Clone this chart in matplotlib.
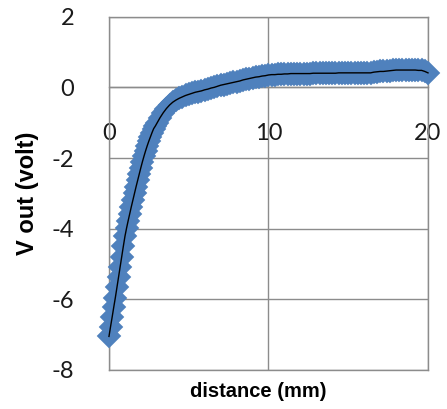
import numpy as np
import matplotlib
matplotlib.use('Agg')
import matplotlib.pyplot as plt

# sample positions (mm): fine step on the steep part, coarser afterwards
distance = np.round(np.concatenate([np.arange(0, 3.0, 0.1),
                                    np.arange(3.0, 20.01, 0.2)]), 2)

# V out
v_steep = [-7.05, -6.77, -6.50, -6.22, -5.95, -5.66, -5.37, -5.08, -4.79, -4.50,
           -4.22, -3.99, -3.78, -3.58, -3.38, -3.19, -3.00, -2.81, -2.63, -2.45,
           -2.27, -2.10, -1.94, -1.79, -1.65, -1.52, -1.40, -1.28, -1.17, -1.10]
v_tail = [-1.02, -0.86, -0.72, -0.60, -0.50, -0.42, -0.36, -0.31, -0.27, -0.23,
          -0.20, -0.17, -0.14, -0.12, -0.10, -0.07, -0.05, -0.02, 0.00, 0.03,
          0.06, 0.08, 0.10, 0.12, 0.14, 0.16, 0.18, 0.21, 0.23, 0.25,
          0.27, 0.29, 0.30, 0.32, 0.33, 0.35, 0.36, 0.36, 0.37, 0.37,
          0.38, 0.38, 0.39, 0.39, 0.39, 0.39, 0.39, 0.39, 0.39, 0.40,
          0.40, 0.40, 0.40, 0.40, 0.40, 0.40, 0.40, 0.41, 0.41, 0.41,
          0.41, 0.41, 0.41, 0.41, 0.41, 0.41, 0.41, 0.41, 0.43, 0.44,
          0.45, 0.45, 0.46, 0.47, 0.48, 0.49, 0.49, 0.49, 0.49, 0.49,
          0.49, 0.49, 0.48, 0.48, 0.45, 0.41]
vout = np.array(v_steep + v_tail)

xticks = [0, 10, 20]
yticks = [-8, -6, -4, -2, 0, 2]

grid_c = '#8c8c8c'
blue = '#4f81bd'

fig = plt.figure(figsize=(4.47, 4.09), dpi=100)
ax = fig.add_axes([0.2438, 0.0954, 0.7137, 0.8638])

ax.plot(distance, vout, linestyle='none', marker='D', ms=12.5,
        color=blue, mec=blue, mew=0.3, zorder=3, clip_on=False)
ax.plot(distance, vout, color='black', lw=1.0, zorder=4, clip_on=False)

for s in ax.spines.values():
    s.set_color(grid_c)
    s.set_linewidth(1.0)
ax.spines['bottom'].set_position(('data', 0))
ax.axhline(-8, color=grid_c, lw=1.0, zorder=0, clip_on=False)

ax.set_xlim(0, 20)
ax.set_ylim(-8, 2)
ax.set_xticks(xticks)
ax.set_yticks(yticks)
ax.set_xticklabels([str(t) for t in xticks], family='Lato', fontsize=17)
ax.set_yticklabels([str(t) for t in yticks], family='Lato', fontsize=17)
ax.tick_params(axis='both', length=0, colors='#1a1a1a')
ax.tick_params(axis='y', pad=25)
ax.tick_params(axis='x', pad=26)

ax.grid(True, color=grid_c, lw=1.0, zorder=0)
ax.set_axisbelow(True)

ax.set_ylabel('V out (volt)', family='Liberation Sans', fontweight='bold',
              fontsize=17, labelpad=9)
fig.text(0.577, 0.042, 'distance (mm)', family='Liberation Sans',
         fontweight='bold', fontsize=14.5, ha='center', va='center')

fig.savefig('out.png', dpi=100)
